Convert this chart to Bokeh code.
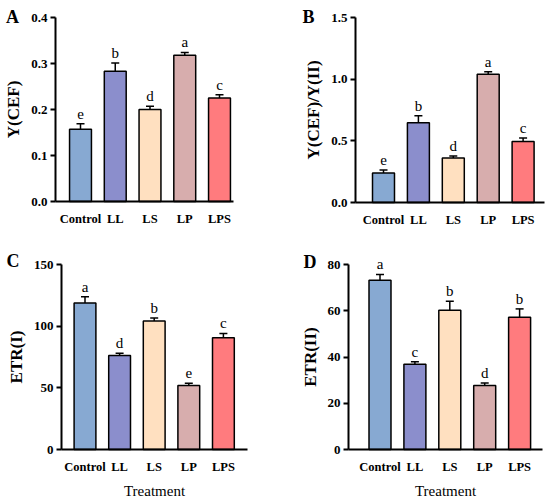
from bokeh.plotting import figure
from bokeh.models import (ColumnDataSource, Range1d, FixedTicker, LabelSet, Label,
                          Whisker, TeeHead, PrintfTickFormatter)
from bokeh.layouts import column, row
from bokeh.embed import file_html
from bokeh.resources import INLINE

treatments = ["Control", "LL", "LS", "LP", "LPS"]
bar_colors = ["#87A9D2", "#8B8ECC", "#FFE0C0", "#D7ADAD", "#FF7B7E"]

# Panel A: Y(CEF)
ycef_mean = [0.157, 0.283, 0.200, 0.318, 0.225]
ycef_sd = [0.012, 0.018, 0.007, 0.006, 0.007]
ycef_letters = ["e", "b", "d", "a", "c"]
ycef_ticks = [0.0, 0.1, 0.2, 0.3, 0.4]

# Panel B: Y(CEF)/Y(II)
ratio_mean = [0.240, 0.647, 0.361, 1.039, 0.494]
ratio_sd = [0.024, 0.057, 0.017, 0.021, 0.029]
ratio_letters = ["e", "b", "d", "a", "c"]
ratio_ticks = [0.0, 0.5, 1.0, 1.5]

# Panel C: ETR(I)
etr1_mean = [118.7, 76.3, 104.1, 51.8, 90.6]
etr1_sd = [5.1, 1.7, 2.5, 1.9, 3.5]
etr1_letters = ["a", "d", "b", "e", "c"]
etr1_ticks = [0, 50, 100, 150]

# Panel D: ETR(II)
etr2_mean = [73.2, 36.9, 60.2, 27.7, 57.2]
etr2_sd = [2.5, 1.1, 3.9, 1.1, 3.6]
etr2_letters = ["a", "c", "b", "d", "b"]
etr2_ticks = [0, 20, 40, 60, 80]

SERIF = "Liberation Serif"


def panel(letter, means, sds, letters, ticks, ylabel, fmt, xlabel,
          W, H, ax_left, ax_right, c0, sp, ytop_px, y0_px, letter_xy):
    # layout geometry (pixels inside this figure) -> data ranges
    def px2x(px):
        return (px - c0) / sp
    k = (y0_px - ytop_px) / ticks[-1]

    xs = list(range(len(treatments)))
    src = ColumnDataSource(dict(
        x=xs, top=means, upper=[m + s for m, s in zip(means, sds)],
        color=bar_colors, letter=letters))
    p = figure(width=W, height=H, output_backend="svg", toolbar_location=None,
               x_range=Range1d(px2x(0), px2x(W)),
               y_range=Range1d((y0_px - H) / k, y0_px / k),
               min_border_left=0, min_border_right=0,
               min_border_top=0, min_border_bottom=0)
    p.outline_line_color = None
    p.grid.visible = False
    p.background_fill_color = "white"
    p.border_fill_color = "white"

    p.vbar(x="x", top="top", bottom=0, width=0.63, fill_color="color",
           line_color="black", line_width=1.5, source=src)
    p.add_layout(Whisker(base="x", lower="top", upper="upper", source=src,
                         line_color="black", line_width=1.5,
                         upper_head=TeeHead(size=8, line_width=1.5, line_color="black"),
                         lower_head=None))
    p.add_layout(LabelSet(x="x", y="upper", text="letter", source=src,
                          y_offset=5, text_align="center", text_baseline="alphabetic",
                          text_font=SERIF, text_font_size="15px", text_color="black"))

    ya = p.yaxis[0]
    ya.fixed_location = px2x(ax_left)
    ya.bounds = (ticks[0], ticks[-1])
    ya.ticker = FixedTicker(ticks=ticks)
    if fmt:
        ya.formatter = PrintfTickFormatter(format=fmt)
    ya.axis_line_width = 2
    ya.major_tick_line_width = 2
    ya.major_tick_out = 5
    ya.major_tick_in = 0
    ya.minor_tick_line_color = None
    ya.major_label_standoff = 3
    ya.major_label_text_font = SERIF
    ya.major_label_text_font_style = "bold"
    ya.major_label_text_font_size = "13px"
    ya.major_label_text_color = "black"
    ya.axis_label = ylabel
    ya.axis_label_text_font = SERIF
    ya.axis_label_text_font_style = "bold"
    ya.axis_label_text_font_size = "17px"
    ya.axis_label_text_color = "black"
    ya.axis_label_standoff = 5

    xa = p.xaxis[0]
    xa.fixed_location = 0
    xa.bounds = (px2x(ax_left), px2x(ax_right))
    xa.ticker = FixedTicker(ticks=xs)
    xa.major_label_overrides = {i: t for i, t in enumerate(treatments)}
    xa.axis_line_width = 2
    xa.major_tick_line_color = None
    xa.major_tick_out = 0
    xa.major_tick_in = 0
    xa.minor_tick_line_color = None
    xa.major_label_standoff = 10
    xa.major_label_text_font = SERIF
    xa.major_label_text_font_style = "bold"
    xa.major_label_text_font_size = "12.5px"
    xa.major_label_text_color = "black"
    if xlabel:
        xa.axis_label = xlabel
        xa.axis_label_text_font = SERIF
        xa.axis_label_text_font_style = "normal"
        xa.axis_label_text_font_size = "15px"
        xa.axis_label_text_color = "black"
        xa.axis_label_standoff = 6

    p.add_layout(Label(x=letter_xy[0], y=H - letter_xy[1], x_units="screen", y_units="screen",
                       text=letter, text_font=SERIF, text_font_style="bold",
                       text_font_size="18px", text_align="center", text_baseline="middle",
                       text_color="black"))
    return p


pa = panel("A", ycef_mean, ycef_sd, ycef_letters, ycef_ticks, "Y(CEF)", "%.1f", None,
           275, 250, 55, 233, 80, 34.75, 17, 201, (12, 16))
pb = panel("B", ratio_mean, ratio_sd, ratio_letters, ratio_ticks, "Y(CEF)/Y(II)", "%.1f", None,
           275, 250, 80, 269, 108, 34.9, 17, 202, (33, 16))
pc = panel("C", etr1_mean, etr1_sd, etr1_letters, etr1_ticks, "ETR(I)", None, "Treatment",
           275, 252, 61, 247, 84.5, 34.6, 14, 199, (12.5, 10))
pd_ = panel("D", etr2_mean, etr2_sd, etr2_letters, etr2_ticks, "ETR(II)", None, "Treatment",
            275, 252, 73, 267, 104.5, 34.9, 14, 199, (34.5, 11))

layout = column(row(pa, pb), row(pc, pd_))
open("out.html", "w").write(file_html(layout, INLINE))
